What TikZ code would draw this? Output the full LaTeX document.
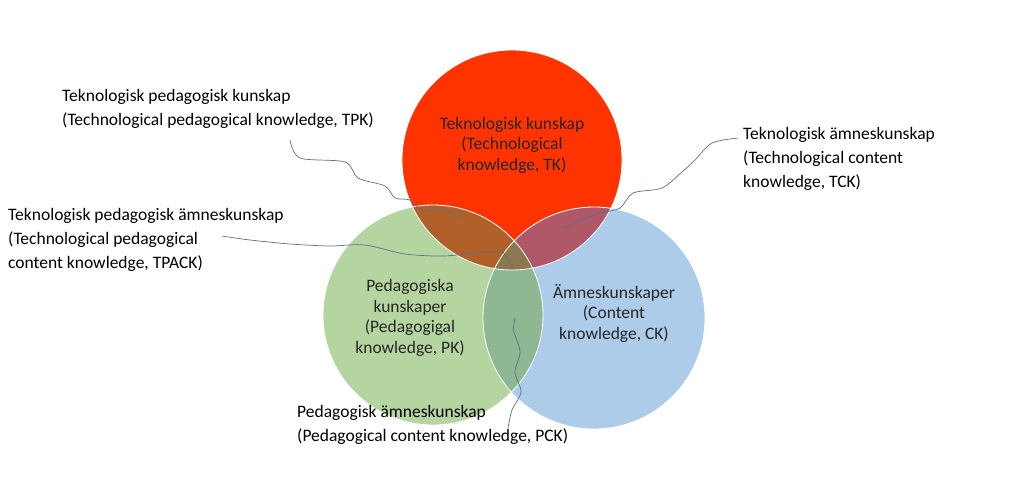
\documentclass[tikz,border=0pt]{standalone}
\usepackage{fontspec}
\setmainfont{Carlito}
\definecolor{cR}{RGB}{255,51,0}
\definecolor{cG}{RGB}{181,213,160}
\definecolor{cB}{RGB}{172,204,234}
\definecolor{cRG}{RGB}{178,96,42}
\definecolor{cRB}{RGB}{176,88,104}
\definecolor{cGB}{RGB}{141,184,146}
\definecolor{cRGB}{RGB}{140,120,78}
\definecolor{cW}{RGB}{85,115,145}
\begin{document}
\begin{tikzpicture}[x=1pt,y=-1pt,
  lbl/.style={align=left,anchor=north west,font=\fontsize{17.5}{24}\selectfont,inner sep=0pt},
  clbl/.style={align=center,font=\fontsize{17.5}{20.5}\selectfont,inner sep=0pt,text=black!85},
  circ/.style={draw=white,line width=0.8pt},
  wave/.style={draw=cW,line width=0.7pt}]
\useasboundingbox (0,0) rectangle (1024,476);
\fill[white] (0,0) rectangle (1024,476);
\fill[cR] (512,160) circle (110);
\fill[cG] (433,315) circle (110);
\fill[cB] (594,318) circle (111);
\begin{scope}\clip (512,160) circle (110);
 \fill[cRG] (433,315) circle (110);
 \fill[cRB] (594,318) circle (111);
\end{scope}
\begin{scope}\clip (433,315) circle (110);
 \fill[cGB] (594,318) circle (111);
 \clip (512,160) circle (110);
 \fill[cRGB] (594,318) circle (111);
\end{scope}
\draw[circ] (512,160) circle (110) (433,315) circle (110) (594,318) circle (111);
\node[clbl] (tk) at (512,145) {Teknologisk kunskap\\(Technological\\knowledge, TK)};
\node[clbl] (pk) at (410,318) {Pedagogiska\\kunskaper\\(Pedagogigal\\knowledge, PK)};
\node[clbl] (ck) at (614,313) {Ämneskunskaper\\(Content\\knowledge, CK)};
\node[lbl] (tpk) at (62,89) {Teknologisk pedagogisk kunskap\\(Technological pedagogical knowledge, TPK)};
\node[lbl] (tck) at (743,127) {Teknologisk ämneskunskap\\(Technological content\\knowledge, TCK)};
\node[lbl] (tpack) at (8,208) {Teknologisk pedagogisk ämneskunskap\\(Technological pedagogical\\content knowledge, TPACK)};
\node[lbl] (pck) at (297,405) {Pedagogisk ämneskunskap\\(Pedagogical content knowledge, PCK)};
\coordinate (e1) at (463,218);
\coordinate (e2) at (564,228);
\coordinate (e3) at (510,262);
\coordinate (e4) at (515,318);
\draw[wave] plot[smooth] coordinates{(290,140)(300,158)(345,162)(358,178)(385,186)(395,198)(410,200)(422,210)(440,208)} -- (e1);
\draw[wave] plot[smooth] coordinates{(738,138)(712,143)(695,160)(682,172)(662,188)(633,193)(620,208)(600,213)(583,219)} -- (e2);
\draw[wave] plot[smooth] coordinates{(222,236)(250,240)(290,244)(330,246)(365,245)(405,254)(445,256)(480,252)(503,252)} -- (e3);
\draw[wave] (e4) -- plot[smooth] coordinates{(513,330)(520,352)(515,372)(521,392)(512,410)(508,428)};
\end{tikzpicture}
\end{document}
